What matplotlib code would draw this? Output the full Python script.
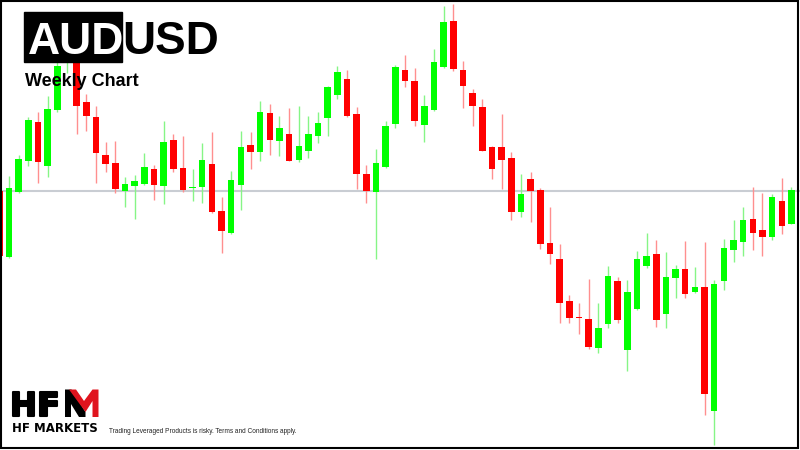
import numpy as np
import matplotlib
matplotlib.use('Agg')
import matplotlib.pyplot as plt
from matplotlib.patches import Rectangle, Polygon
import matplotlib.patheffects as pe

# ---- data (weekly AUDUSD candles) ----
weeks = list(range(-1, 82))
opens = [0.6818, 0.6687, 0.6815, 0.6878, 0.6955, 0.6869, 0.6980, 0.7084, 0.7130, 0.6995,
         0.6965, 0.6889, 0.6873, 0.6818, 0.6828, 0.6831, 0.6862, 0.6829, 0.6919, 0.6863,
         0.6823, 0.6825, 0.6872, 0.6779, 0.6733, 0.6830, 0.6910, 0.6895, 0.6973, 0.6917,
         0.6932, 0.6880, 0.6899, 0.6927, 0.6963, 0.7010, 0.7041, 0.6972, 0.6852, 0.6817,
         0.6865, 0.6952, 0.7059, 0.7037, 0.6950, 0.6980, 0.7065, 0.7157, 0.7060, 0.7013,
         0.6985, 0.6905, 0.6905, 0.6883, 0.6775, 0.6842, 0.6820, 0.6713, 0.6682, 0.6597,
         0.6565, 0.6561, 0.6505, 0.6551, 0.6637, 0.6500, 0.6581, 0.6668, 0.6691, 0.6571,
         0.6643, 0.6662, 0.6617, 0.6626, 0.6377, 0.6638, 0.6699, 0.6715, 0.6761, 0.6739,
         0.6725, 0.6797, 0.6752]
highs = [0.6828, 0.6848, 0.6890, 0.6965, 0.6976, 0.7007, 0.7090, 0.7144, 0.7144, 0.7012,
         0.6987, 0.6915, 0.6918, 0.6847, 0.6850, 0.6893, 0.6870, 0.6957, 0.6931, 0.6928,
         0.6862, 0.6913, 0.6935, 0.6805, 0.6858, 0.6938, 0.6935, 0.6997, 0.6991, 0.6967,
         0.6983, 0.6988, 0.6967, 0.6975, 0.7028, 0.7068, 0.7060, 0.6985, 0.6870, 0.6902,
         0.6959, 0.7069, 0.7090, 0.7063, 0.7010, 0.7102, 0.7187, 0.7192, 0.7078, 0.7022,
         0.7002, 0.6907, 0.6972, 0.6895, 0.6851, 0.6855, 0.6823, 0.6787, 0.6711, 0.6610,
         0.6595, 0.6642, 0.6595, 0.6668, 0.6647, 0.6640, 0.6698, 0.6733, 0.6719, 0.6695,
         0.6670, 0.6718, 0.6667, 0.6717, 0.6640, 0.6721, 0.6760, 0.6785, 0.6825, 0.6813,
         0.6811, 0.6843, 0.6825]
lows = [0.6684, 0.6685, 0.6814, 0.6869, 0.6834, 0.6845, 0.6975, 0.7053, 0.6931, 0.6938,
        0.6833, 0.6855, 0.6813, 0.6785, 0.6761, 0.6830, 0.6800, 0.6791, 0.6855, 0.6815,
        0.6798, 0.6793, 0.6773, 0.6693, 0.6732, 0.6780, 0.6861, 0.6878, 0.6890, 0.6889,
        0.6877, 0.6875, 0.6883, 0.6913, 0.6927, 0.7002, 0.6965, 0.6822, 0.6793, 0.6681,
        0.6864, 0.6943, 0.7025, 0.6948, 0.6915, 0.6979, 0.7064, 0.7057, 0.6983, 0.6947,
        0.6898, 0.6841, 0.6822, 0.6760, 0.6765, 0.6755, 0.6701, 0.6671, 0.6553, 0.6555,
        0.6532, 0.6501, 0.6495, 0.6545, 0.6553, 0.6458, 0.6580, 0.6663, 0.6547, 0.6543,
        0.6605, 0.6605, 0.6613, 0.6370, 0.6309, 0.6619, 0.6677, 0.6688, 0.6700, 0.6688,
        0.6719, 0.6731, 0.6751]
closes = [0.6688, 0.6823, 0.6881, 0.6960, 0.6875, 0.6982, 0.7067, 0.7130, 0.6989, 0.6968,
          0.6893, 0.6871, 0.6822, 0.6831, 0.6837, 0.6865, 0.6830, 0.6915, 0.6862, 0.6820,
          0.6826, 0.6879, 0.6775, 0.6738, 0.6840, 0.6905, 0.6895, 0.6975, 0.6920, 0.6943,
          0.6878, 0.6907, 0.6932, 0.6953, 0.7025, 0.7055, 0.6967, 0.6852, 0.6818, 0.6873,
          0.6948, 0.7065, 0.7038, 0.6957, 0.6987, 0.7075, 0.7155, 0.7062, 0.7027, 0.6988,
          0.6899, 0.6862, 0.6880, 0.6775, 0.6812, 0.6819, 0.6712, 0.6692, 0.6595, 0.6563,
          0.6563, 0.6507, 0.6545, 0.6647, 0.6560, 0.6615, 0.6682, 0.6687, 0.6560, 0.6645,
          0.6662, 0.6612, 0.6626, 0.6412, 0.6632, 0.6703, 0.6719, 0.6759, 0.6733, 0.6727,
          0.6805, 0.6748, 0.6819]
last_price = 0.6819

title_boxed = "AUD"
title_rest = "USD"
subtitle = "Weekly Chart"
logo_text = "HF"
brand = "HF MARKETS"
disclaimer = "Trading Leveraged Products is risky. Terms and Conditions apply."

# ---- figure ----
fig = plt.figure(figsize=(8, 4.5), dpi=100)
fig.patch.set_facecolor('white')
ax = fig.add_axes([0, 0, 1, 1])
ax.set_xlim(-0.932, 81.884)
ax.set_ylim(0.63, 0.72)
ax.axis('off')

x = np.array(weeks)
o = np.array(opens); h = np.array(highs); l = np.array(lows); c = np.array(closes)
up = c >= o
body_col = ['#00ff00' if u else '#ff0000' for u in up]
wick_col = ['#86f586' if u else '#ff8f8f' for u in up]

ax.axhline(last_price, color='#c9cdd3', lw=1.5, zorder=1)
ax.vlines(x, l, h, colors=wick_col, lw=1.0, zorder=2)
bottom = np.minimum(o, c)
height = np.maximum(np.abs(c - o), 0.00035)
ax.bar(x, height, bottom=bottom, width=0.68, color=body_col, edgecolor='none', zorder=3)

# ---- overlay in pixel coordinates ----
ov = fig.add_axes([0, 0, 1, 1], facecolor='none')
ov.set_xlim(0, 800)
ov.set_ylim(450, 0)
ov.axis('off')

ov.add_patch(Rectangle((24, 11.7), 97.7, 50.6, color='black', zorder=5))
ov.text(27.5, 54.3, title_boxed, color='white', fontsize=32, fontweight='bold',
        family='Liberation Sans', va='baseline', ha='left', zorder=6)
ov.text(122.0, 54.3, title_rest, color='black', fontsize=33, fontweight='bold',
        family='Liberation Sans', va='baseline', ha='left', zorder=6)
ov.text(25, 86, subtitle, color='black', fontsize=13, fontweight='bold',
        family='Liberation Sans', va='baseline', ha='left', zorder=6)

# logo
ov.text(9.5, 416.3, logo_text, color='black', fontsize=24, fontweight='bold',
        family='DejaVu Sans', va='baseline', ha='left', zorder=6,
        path_effects=[pe.withStroke(linewidth=1.5, foreground='black')])
ov.add_patch(Polygon([(65, 417), (65, 389.5), (71.5, 389.5), (85.5, 412), (85.5, 417),
                      (79, 417), (71, 404), (71, 417)], closed=True,
                     facecolor='black', edgecolor='none', zorder=6))
ov.add_patch(Polygon([(69, 389.5), (76, 389.5), (84, 401), (92.5, 389.5), (98.5, 389.5),
                      (98.5, 417), (92.5, 417), (92.5, 401), (85.5, 412)], closed=True,
                     facecolor='#e0141e', edgecolor='none', zorder=7))
ov.text(11.7, 432.3, brand, color='black', fontsize=8.5, fontweight='bold',
        family='DejaVu Sans', va='baseline', ha='left', zorder=6)
ov.text(109.3, 433.0, disclaimer, color='#222222', fontsize=4.7,
        family='Liberation Sans', va='baseline', ha='left', zorder=6)

# frame
ov.add_patch(Rectangle((1, 1), 797, 447, fill=False, edgecolor='black', lw=1.5,
                       clip_on=False, zorder=10))

fig.savefig('out.png', dpi=100)
